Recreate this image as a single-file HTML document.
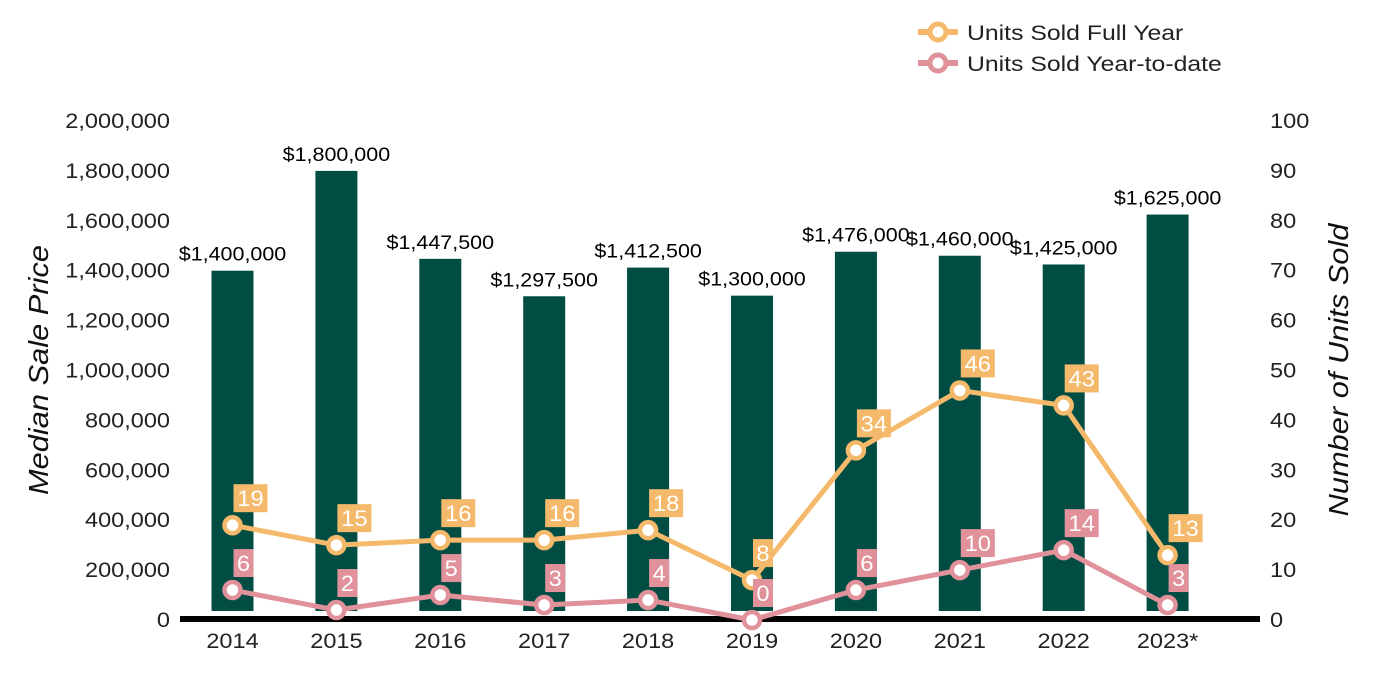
<!DOCTYPE html>
<html><head><meta charset="utf-8"><style>
body{margin:0;background:#fff;}
svg{display:block;font-family:"Liberation Sans",Arial,sans-serif;}
</style></head><body>
<svg id="c" width="1400" height="700"></svg>
<script>
const years=["2014","2015","2016","2017","2018","2019","2020","2021","2022","2023*"];
const prices=[1400000,1800000,1447500,1297500,1412500,1300000,1476000,1460000,1425000,1625000];
const fullYear=[19,15,16,16,18,8,34,46,43,13];
const ytd=[6,2,5,3,4,0,6,10,14,3];
const leftTicks=[0,200000,400000,600000,800000,1000000,1200000,1400000,1600000,1800000,2000000];
const rightTicks=[0,10,20,30,40,50,60,70,80,90,100];
const NS="http://www.w3.org/2000/svg";
const svg=document.getElementById('c');
const y0=620,y1=121;
const yL=v=>y0-(v/2000000)*(y0-y1);
const yR=v=>y0-(v/100)*(y0-y1);
const xC=i=>232.5+i*103.9;
function mk(t,a,p){const e=document.createElementNS(NS,t);for(const k in a)e.setAttribute(k,a[k]);(p||svg).appendChild(e);return e;}
function stretch(t,k){const w=t.getComputedTextLength();if(w>0){t.setAttribute('textLength',(w*k).toFixed(1));t.setAttribute('lengthAdjust','spacingAndGlyphs');}}
const fmt=n=>n.toLocaleString('en-US');
leftTicks.forEach(v=>{const t=mk('text',{x:170,y:yL(v)+7,'text-anchor':'end','font-size':21,fill:'#222'});t.textContent=fmt(v);stretch(t,1.12);

});
rightTicks.forEach(v=>{const t=mk('text',{x:1270,y:yR(v)+7,'text-anchor':'start','font-size':21,fill:'#222'});t.textContent=v;stretch(t,1.12);

});
let t=mk('text',{transform:'translate(48,370) rotate(-90)','text-anchor':'middle','font-size':28,'font-style':'italic',fill:'#111'});t.textContent='Median Sale Price';stretch(t,1.1);


t=mk('text',{transform:'translate(1348,370) rotate(-90)','text-anchor':'middle','font-size':28,'font-style':'italic',fill:'#111'});t.textContent='Number of Units Sold';stretch(t,1.1);


prices.forEach((v,i)=>{const r=mk('rect',{x:xC(i)-21,y:yL(v),width:42,height:611-yL(v),fill:'#014d43'});


const l=mk('text',{x:xC(i),y:yL(v)-10,'text-anchor':'middle','font-size':19,fill:'#000'});l.textContent='$'+fmt(v);stretch(l,1.13);


const y=mk('text',{x:xC(i),y:648,'text-anchor':'middle','font-size':21,fill:'#222'});y.textContent=years[i];stretch(y,1.12);

});
const ax=mk('rect',{x:180,y:616,width:1080,height:6,fill:'#000'});


function series(vals,col,name){
 const pl=mk('polyline',{points:vals.map((v,i)=>xC(i)+','+yR(v)).join(' '),fill:'none',stroke:col,'stroke-width':5,'stroke-linejoin':'round'});
 
 
 vals.forEach((v,i)=>{const cx=xC(i),cy=yR(v);
  const c=mk('circle',{cx:cx,cy:cy,r:8,fill:'#fff',stroke:col,'stroke-width':4.5});
  
  
  const s=String(v),w=s.length>1?34:20;
  const b=mk('rect',{x:cx+1,y:cy-41,width:w,height:28,fill:col});
  
  
  const tx=mk('text',{x:cx+1+w/2,y:cy-19,'text-anchor':'middle','font-size':22,fill:'#fff'});tx.textContent=s;stretch(tx,1.08);
  
  });
}
series(fullYear,'#f5b96b','full-year');
series(ytd,'#e0919a','ytd');
[['Units Sold Full Year','#f5b96b',32],['Units Sold Year-to-date','#e0919a',63]].forEach(([n,c,y])=>{
 const g=mk('g',{});
 
 
 mk('line',{x1:918,y1:y,x2:958,y2:y,stroke:c,'stroke-width':6},g);
 mk('circle',{cx:938,cy:y,r:8,fill:'#fff',stroke:c,'stroke-width':5},g);
 const tt=mk('text',{x:967,y:y+8,'font-size':21,fill:'#222'},g);tt.textContent=n;stretch(tt,1.18);});
</script>
</body></html>
